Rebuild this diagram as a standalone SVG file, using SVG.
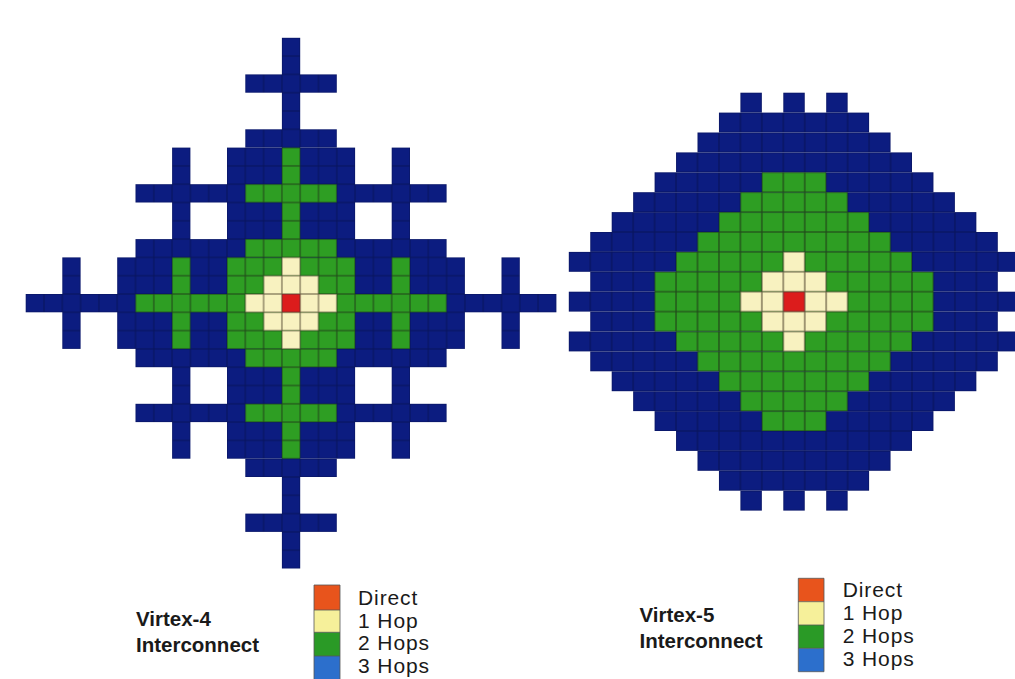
<svg xmlns="http://www.w3.org/2000/svg" width="1015" height="679" viewBox="0 0 1015 679">
<style>
.b{fill:url(#pb)} .g{fill:url(#pg)} .c{fill:url(#pc)} .r{fill:url(#pr)}
.lbl{font-family:"Liberation Sans",Arial,sans-serif;font-size:21px;letter-spacing:0.9px;fill:#1a1a1a}
.ttl{font-family:"Liberation Sans",Arial,sans-serif;font-size:20.5px;font-weight:bold;fill:#1a1a1a}
.key{stroke:#555;stroke-width:0.8}
</style>
<defs>
<pattern id="pb" patternUnits="userSpaceOnUse" width="1" height="1"><rect width="1" height="1" fill="#0c1c80"/><rect width="1" height="1" fill="none" stroke="#08145e" stroke-width="0.06"/></pattern>
<pattern id="pg" patternUnits="userSpaceOnUse" width="1" height="1"><rect width="1" height="1" fill="#2e9e23"/><rect width="1" height="1" fill="none" stroke="#214a1a" stroke-width="0.06"/></pattern>
<pattern id="pc" patternUnits="userSpaceOnUse" width="1" height="1"><rect width="1" height="1" fill="#f8f2c0"/><rect width="1" height="1" fill="none" stroke="#6e6448" stroke-width="0.06"/></pattern>
<pattern id="pr" patternUnits="userSpaceOnUse" width="1" height="1"><rect width="1" height="1" fill="#dc1c1c"/><rect width="1" height="1" fill="none" stroke="#6e3030" stroke-width="0.06"/></pattern>
</defs>
<rect width="1015" height="679" fill="#ffffff"/>

<g id="virtex4-grid" transform="translate(25.7,37.8) scale(18.3)">
<rect class="b" x="0" y="14" width="29" height="1"/>
<rect class="b" x="14" y="0" width="1" height="29"/>
<rect class="b" x="12" y="2" width="5" height="1"/>
<rect class="b" x="12" y="26" width="5" height="1"/>
<rect class="b" x="2" y="12" width="1" height="5"/>
<rect class="b" x="26" y="12" width="1" height="5"/>
<rect class="b" x="12" y="5" width="5" height="1"/>
<rect class="b" x="12" y="23" width="5" height="1"/>
<rect class="b" x="5" y="12" width="19" height="5"/>
<rect class="b" x="11" y="6" width="7" height="17"/>
<rect class="b" x="6" y="11" width="17" height="7"/>
<rect class="b" x="6" y="8" width="17" height="1"/>
<rect class="b" x="6" y="20" width="17" height="1"/>
<rect class="b" x="8" y="6" width="1" height="17"/>
<rect class="b" x="20" y="6" width="1" height="17"/>
<rect class="g" x="14" y="6" width="1" height="17"/>
<rect class="g" x="6" y="14" width="17" height="1"/>
<rect class="g" x="12" y="8" width="5" height="1"/>
<rect class="g" x="12" y="20" width="5" height="1"/>
<rect class="g" x="8" y="12" width="1" height="5"/>
<rect class="g" x="20" y="12" width="1" height="5"/>
<rect class="g" x="11" y="12" width="7" height="5"/>
<rect class="g" x="12" y="11" width="5" height="1"/>
<rect class="g" x="12" y="17" width="5" height="1"/>
<rect class="c" x="14" y="12" width="1" height="1"/>
<rect class="c" x="13" y="13" width="3" height="1"/>
<rect class="c" x="12" y="14" width="5" height="1"/>
<rect class="c" x="13" y="15" width="3" height="1"/>
<rect class="c" x="14" y="16" width="1" height="1"/>
<rect class="r" x="14" y="14" width="1" height="1"/>
</g>

<g id="virtex5-grid" transform="translate(568.8,92.7) scale(21.45,19.9)">
<rect class="b" x="8" y="0" width="1" height="1"/>
<rect class="b" x="10" y="0" width="1" height="1"/>
<rect class="b" x="12" y="0" width="1" height="1"/>
<rect class="b" x="7" y="1" width="7" height="1"/>
<rect class="b" x="6" y="2" width="9" height="1"/>
<rect class="b" x="5" y="3" width="11" height="1"/>
<rect class="b" x="4" y="4" width="13" height="1"/>
<rect class="b" x="3" y="5" width="15" height="1"/>
<rect class="b" x="2" y="6" width="17" height="1"/>
<rect class="b" x="1" y="7" width="19" height="1"/>
<rect class="b" x="0" y="8" width="21" height="1"/>
<rect class="b" x="1" y="9" width="19" height="1"/>
<rect class="b" x="0" y="10" width="21" height="1"/>
<rect class="b" x="1" y="11" width="19" height="1"/>
<rect class="b" x="0" y="12" width="21" height="1"/>
<rect class="b" x="1" y="13" width="19" height="1"/>
<rect class="b" x="2" y="14" width="17" height="1"/>
<rect class="b" x="3" y="15" width="15" height="1"/>
<rect class="b" x="4" y="16" width="13" height="1"/>
<rect class="b" x="5" y="17" width="11" height="1"/>
<rect class="b" x="6" y="18" width="9" height="1"/>
<rect class="b" x="7" y="19" width="7" height="1"/>
<rect class="b" x="8" y="20" width="1" height="1"/>
<rect class="b" x="10" y="20" width="1" height="1"/>
<rect class="b" x="12" y="20" width="1" height="1"/>
<rect class="g" x="9" y="4" width="3" height="1"/>
<rect class="g" x="8" y="5" width="5" height="1"/>
<rect class="g" x="7" y="6" width="7" height="1"/>
<rect class="g" x="6" y="7" width="9" height="1"/>
<rect class="g" x="5" y="8" width="11" height="1"/>
<rect class="g" x="4" y="9" width="13" height="3"/>
<rect class="g" x="5" y="12" width="11" height="1"/>
<rect class="g" x="6" y="13" width="9" height="1"/>
<rect class="g" x="7" y="14" width="7" height="1"/>
<rect class="g" x="8" y="15" width="5" height="1"/>
<rect class="g" x="9" y="16" width="3" height="1"/>
<rect class="c" x="10" y="8" width="1" height="1"/>
<rect class="c" x="9" y="9" width="3" height="1"/>
<rect class="c" x="8" y="10" width="5" height="1"/>
<rect class="c" x="9" y="11" width="3" height="1"/>
<rect class="c" x="10" y="12" width="1" height="1"/>
<rect class="r" x="10" y="10" width="1" height="1"/>
</g>

<g id="legend-virtex4">
<text class="ttl" x="136" y="626">Virtex-4</text>
<text class="ttl" x="136" y="652">Interconnect</text>
<rect x="314" y="585" width="26" height="25" fill="#e8541c"/>
<rect x="314" y="610" width="26" height="22.3" fill="#f6f09a"/>
<rect x="314" y="632.3" width="26" height="23.7" fill="#2a9a26"/>
<rect x="314" y="656" width="26" height="24" fill="#2c6fcc"/>
<path class="key" d="M314 680V585H340V680M314 610H340M314 632.3H340M314 656H340" fill="none"/>
<text class="lbl" x="358" y="605">Direct</text>
<text class="lbl" x="358" y="627.5">1 Hop</text>
<text class="lbl" x="358" y="650">2 Hops</text>
<text class="lbl" x="358" y="673">3 Hops</text>
</g>

<g id="legend-virtex5">
<text class="ttl" x="639.5" y="621.7">Virtex-5</text>
<text class="ttl" x="639.5" y="647.5">Interconnect</text>
<rect x="798.3" y="578.3" width="25.7" height="23.4" fill="#e8541c"/>
<rect x="798.3" y="601.7" width="25.7" height="23.3" fill="#f6f09a"/>
<rect x="798.3" y="625" width="25.7" height="23.3" fill="#2a9a26"/>
<rect x="798.3" y="648.3" width="25.7" height="23.4" fill="#2c6fcc"/>
<path class="key" d="M798.3 578.3H824V671.7H798.3ZM798.3 601.7H824M798.3 625H824M798.3 648.3H824" fill="none"/>
<text class="lbl" x="842.7" y="596.5">Direct</text>
<text class="lbl" x="842.7" y="620">1 Hop</text>
<text class="lbl" x="842.7" y="642.5">2 Hops</text>
<text class="lbl" x="842.7" y="666">3 Hops</text>
</g>
</svg>
